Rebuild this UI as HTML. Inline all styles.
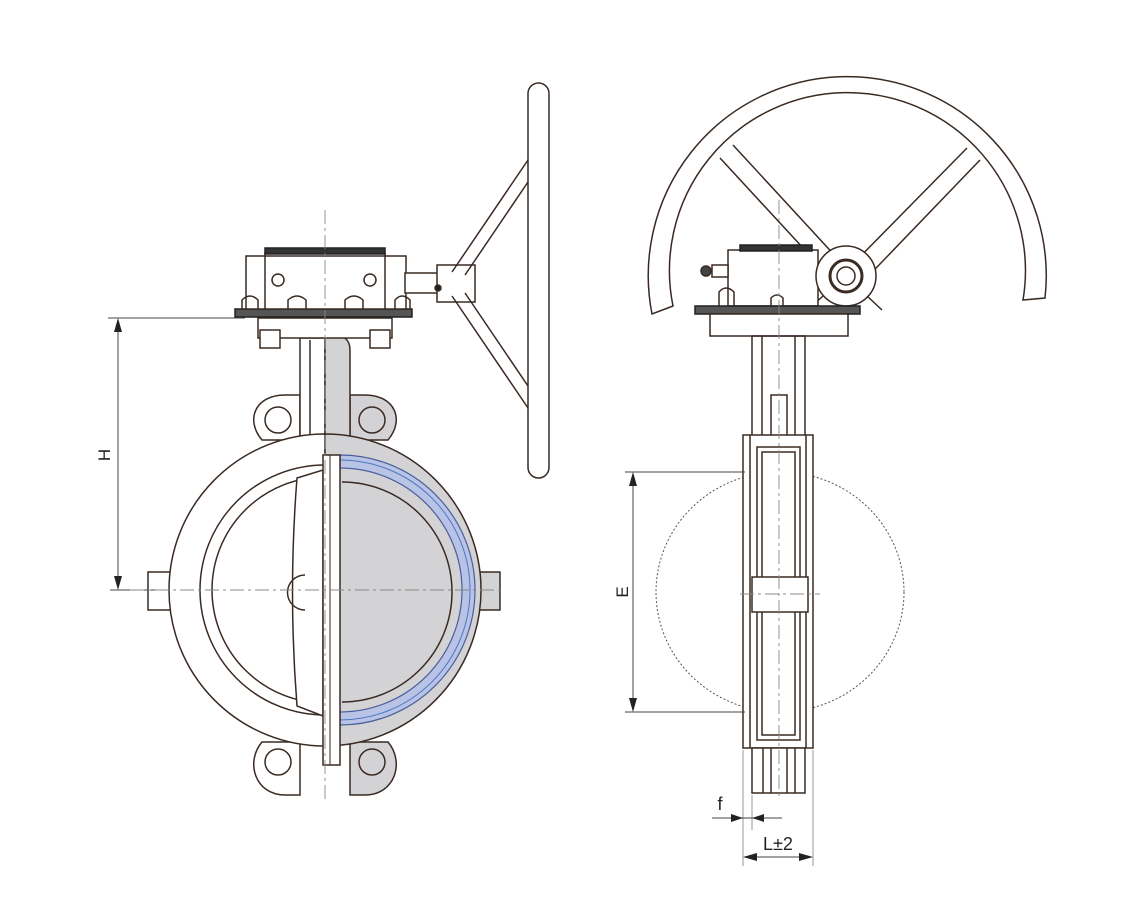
<!DOCTYPE html>
<html><head><meta charset="utf-8"><style>
html,body{margin:0;padding:0;background:#fff;width:1127px;height:909px;overflow:hidden}
svg{display:block}
text{font-family:"Liberation Sans",sans-serif;fill:#222}
</style></head><body>
<svg width="1127" height="909" viewBox="0 0 1127 909" xmlns="http://www.w3.org/2000/svg">
<g fill="none" stroke="#3a2a22" stroke-width="1.5">
<!-- ===== LEFT VIEW ===== -->
<path d="M262,440 C245,420 255,395 285,395 L300,395 L300,440 Z" fill="#fff"/>
<path d="M388,440 C405,420 395,395 365,395 L350,395 L350,440 Z" fill="#d3d3d5"/>
<circle cx="278" cy="420" r="13"/><circle cx="372" cy="420" r="13"/>
<path d="M262,742 C245,762 255,795 285,795 L300,795 L300,742 Z" fill="#fff"/>
<path d="M388,742 C405,762 395,795 365,795 L350,795 L350,742 Z" fill="#d3d3d5"/>
<circle cx="278" cy="762" r="13"/><circle cx="372" cy="762" r="13"/>
<rect x="300" y="338" width="25" height="105" fill="#fff"/>
<path d="M325,320 L345,320 L345,338 Q350,342 350,350 L350,440 L325,440 Z" fill="#d3d3d5"/>
<line x1="310" y1="340" x2="310" y2="440"/>
<rect x="148" y="572" width="24" height="38" fill="#fff"/>
<rect x="478" y="572" width="22" height="38" fill="#d3d3d5"/>
<!-- body -->
<path d="M325,434 A156,156 0 0 0 325,746 Z" fill="#fff"/>
<path d="M325,434 A156,156 0 0 1 325,746 Z" fill="#d3d3d5"/>
<path d="M325,465 A125,125 0 0 0 325,715" />
<path d="M325,477 A113,113 0 0 0 325,703" />
<!-- blue seat -->
<path d="M340,455 A135,135 0 0 1 340,725 L340,712 A122,122 0 0 0 340,468 Z" fill="#b9c3e6" stroke="#4a5e9a" stroke-width="1.2"/>
<path d="M340,460 A130,130 0 0 1 340,720" stroke="#4a78c0" stroke-width="1"/>
<path d="M342,482 A110,110 0 0 1 342,702" fill="#d3d3d5"/>
<path d="M297,478 L323,470 L323,716 L297,706 Q288,592 297,478 Z" fill="#fff"/>
<path d="M305,575 A15,15 0 0 0 305,610"/>
<rect x="323" y="455" width="17" height="310" fill="#fff"/>
<line x1="330" y1="455" x2="330" y2="765" stroke-width="1"/>
<rect x="258" y="318" width="134" height="20" fill="#fff"/>
<rect x="260" y="330" width="20" height="18" fill="#fff"/><rect x="370" y="330" width="20" height="18" fill="#fff"/>
<rect x="235" y="309" width="177" height="8" fill="#555" stroke="#222"/>
<rect x="246" y="256" width="160" height="53" fill="#fff"/>
<line x1="265" y1="252" x2="265" y2="309"/><line x1="385" y1="252" x2="385" y2="309"/>
<rect x="265" y="248" width="120" height="6" fill="#333" stroke="#222"/>
<circle cx="278" cy="280" r="6"/><circle cx="370" cy="280" r="6"/>
<path d="M288,309 V300 Q297,292 306,300 V309"/><path d="M345,309 V300 Q354,292 363,300 V309"/>
<path d="M242,309 V300 Q250,292 258,300 V309"/><path d="M395,309 V300 Q402,292 410,300 V309"/>
<rect x="405" y="273" width="33" height="20" fill="#fff"/>
<rect x="437" y="265" width="38" height="37" fill="#fff"/>
<circle cx="438" cy="288" r="3" fill="#222"/>
<path d="M452,272 L528,160 M465,275 L528,182"/>
<path d="M452,296 L528,408 M465,293 L528,386"/>
<rect x="528" y="83" width="21" height="395" rx="10.5" fill="#fff"/>
<g stroke="#444" stroke-width="1">
<line x1="108" y1="318" x2="245" y2="318"/>
<line x1="110" y1="590" x2="160" y2="590"/>
<line x1="118" y1="322" x2="118" y2="586"/>
</g>
<path d="M118,318 L114,332 L122,332 Z M118,590 L114,576 L122,576 Z" fill="#222" stroke="none"/>
<g stroke="#888" stroke-width="0.9" stroke-dasharray="14,4,3,4">
<line x1="325" y1="210" x2="325" y2="800"/>
<line x1="130" y1="590" x2="505" y2="590"/>
</g>

<!-- ===== RIGHT VIEW ===== -->
<path d="M652,314 A199,199 0 1 1 1045,298 L1023,300 A178,178 0 1 0 673,306 Z" fill="#fff"/>
<path d="M720,158 L840,288 M733,145 L850,272"/>
<path d="M980,160 L855,290 M967,148 L845,272"/>
<path d="M808,310 L840,280 M882,310 L850,280"/>
<rect x="728" y="250" width="90" height="56" fill="#fff"/>
<rect x="740" y="245" width="72" height="6" fill="#333" stroke="#222"/>
<rect x="712" y="265" width="16" height="12" fill="#fff"/>
<circle cx="706" cy="271" r="5" fill="#444"/>
<path d="M719,306 V292 Q726,284 734,292 V306"/>
<path d="M771,306 V298 Q777,292 783,298 V306"/>
<circle cx="846" cy="276" r="30" fill="#fff"/>
<circle cx="846" cy="276" r="16" fill="#fff" stroke-width="3"/>
<circle cx="846" cy="276" r="9"/>
<rect x="695" y="306" width="165" height="8" fill="#555" stroke="#222"/>
<rect x="710" y="314" width="138" height="22" fill="#fff"/>
<rect x="752" y="336" width="53" height="100"/>
<line x1="762" y1="336" x2="762" y2="436"/><line x1="795" y1="336" x2="795" y2="436"/>
<rect x="771" y="395" width="16" height="50" fill="#fff"/>
<ellipse cx="780" cy="592" rx="124" ry="120" stroke="#555" stroke-width="1" stroke-dasharray="2,2"/>
<rect x="743" y="435" width="70" height="313" fill="#fff"/>
<line x1="750" y1="435" x2="750" y2="748"/><line x1="806" y1="435" x2="806" y2="748"/>
<rect x="757" y="447" width="43" height="293" fill="#fff"/>
<rect x="762" y="452" width="33" height="283"/>
<rect x="752" y="577" width="56" height="35" fill="#fff"/>
<rect x="752" y="748" width="53" height="45" fill="#fff"/>
<line x1="763" y1="748" x2="763" y2="793"/><line x1="771" y1="748" x2="771" y2="793"/><line x1="787" y1="748" x2="787" y2="793"/><line x1="795" y1="748" x2="795" y2="793"/>
<g stroke="#444" stroke-width="1">
<line x1="625" y1="472" x2="745" y2="472"/>
<line x1="625" y1="712" x2="745" y2="712"/>
<line x1="633" y1="476" x2="633" y2="708"/>
<line x1="743" y1="750" x2="743" y2="866" stroke="#999"/>
<line x1="813" y1="750" x2="813" y2="866" stroke="#999"/>
<line x1="752" y1="795" x2="752" y2="830" stroke="#999"/>
<line x1="712" y1="818" x2="782" y2="818"/>
<line x1="745" y1="857" x2="811" y2="857"/>
</g>
<path d="M633,472 L629,486 L637,486 Z M633,712 L629,698 L637,698 Z" fill="#222" stroke="none"/>
<path d="M743,818 L731,814 L731,822 Z M752,818 L764,814 L764,822 Z" fill="#222" stroke="none"/>
<path d="M743,857 L757,853 L757,861 Z M813,857 L799,853 L799,861 Z" fill="#222" stroke="none"/>
<g stroke="#888" stroke-width="0.9" stroke-dasharray="14,4,3,4">
<line x1="779" y1="200" x2="779" y2="800"/>
<line x1="740" y1="594" x2="820" y2="594"/>
</g>
</g>
<text x="0" y="0" font-size="17" transform="translate(110,455) rotate(-90)" text-anchor="middle">H</text>
<text x="0" y="0" font-size="17" transform="translate(628,592) rotate(-90)" text-anchor="middle">E</text>
<text x="720" y="810" font-size="18" text-anchor="middle">f</text>
<text x="778" y="850" font-size="18" text-anchor="middle">L±2</text>
</svg>
</body></html>
